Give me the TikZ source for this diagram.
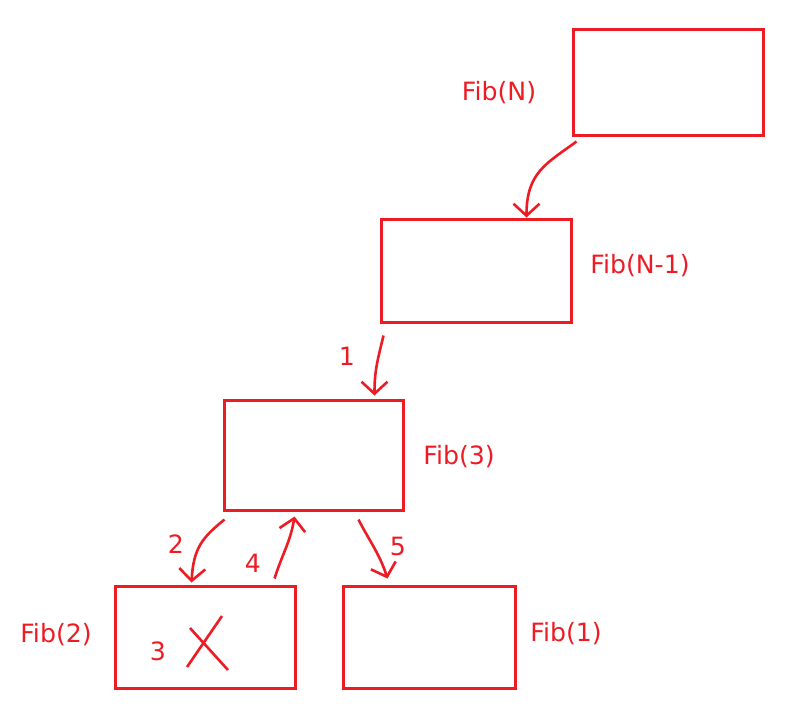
\documentclass[tikz,border=0pt]{standalone}
\usepackage{fontspec}
\setmainfont{DejaVu Sans}
\usetikzlibrary{arrows.meta,calc}
\definecolor{paintred}{RGB}{237,28,36}

\begin{document}
\begin{tikzpicture}[x=0.5pt,y=-0.5pt,
   every node/.style={text=paintred,font=\fontsize{12.6}{15}\selectfont},
   frame/.style={draw=paintred,line width=1.5pt,inner sep=0pt},
   link/.style={draw=paintred,line width=1.3pt,-{Straight Barb[length=6pt,width=13pt,line width=1.3pt]}}]
   \useasboundingbox (0,0) rectangle (799,720);
   \node (fibN) [frame,minimum width=95pt,minimum height=53pt] at (668,82) {};
   \node (fibNm1) [frame,minimum width=95pt,minimum height=51.5pt] at (476,270.5) {};
   \node (fib3) [frame,minimum width=89.5pt,minimum height=55pt] at (313.5,455) {};
   \node (fib2) [frame,minimum width=90pt,minimum height=51pt] at (205,637) {};
   \node (fib1) [frame,minimum width=86pt,minimum height=51pt] at (429,637) {};
   \node (lN) at (499,93) {Fib(N)};
   \node (lNm1) at (640,266) {Fib(N-1)};
   \node (l3) at (459,457) {Fib(3)};
   \node (l2) at (56,635) {Fib(2)};
   \node (l1) at (566,634) {Fib(1)};
   \node (s1) at (347,356) {1};
   \node (s2) at (176,544) {2};
   \node (s3) at (158,651) {3};
   \node (s4) at (253,563) {4};
   \node (s5) at (398,546) {5};
   \draw[link] ($(fibN.south west)+(5,5)$) .. controls +(-30,22) and +(0,-45) .. ($(fibNm1.north west)+(147,0)$);
   \draw[link] ($(fibNm1.south west)+(4,12)$) .. controls +(-6,25) and +(0,-25) .. ($(fib3.north west)+(152,-3)$);
   \draw[link] ($(fib3.south west)+(2,8)$) .. controls +(-22,18) and +(2,-35) .. ($(fib2.north west)+(78,-2)$);
   \draw[link] ($(fib2.north east)+(-22,-6)$) .. controls +(8,-25) and +(-4,25) .. ($(fib3.south west)+(72,5)$);
   \draw[link] ($(fib3.south west)+(136,8)$) .. controls +(10,20) and +(-8,-25) .. ($(fib1.north west)+(46,-6)$);
   % the cross
   \draw[paintred,line width=1.3pt] ($(fib2.center)+(-15,-9)$) -- ($(fib2.center)+(23,33)$);
   \draw[paintred,line width=1.3pt] ($(fib2.center)+(17,-21)$) -- ($(fib2.center)+(-18,30)$);
\end{tikzpicture}
\end{document}
